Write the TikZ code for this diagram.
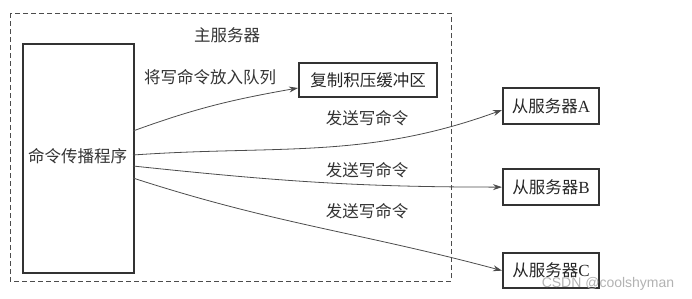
\documentclass[tikz,border=0pt]{standalone}
\usepackage{fontspec}
\setmainfont{Liberation Serif}
\newfontfamily\cjk{Noto Sans CJK SC}
\usetikzlibrary{arrows.meta}
\begin{document}
\begin{tikzpicture}[x=1pt,y=-1pt,
  box/.style={draw=black!80,line width=2.2pt,inner sep=0pt,font=\cjk\fontsize{16.5}{19}\selectfont,text=black!85},
  lbl/.style={font=\cjk\fontsize{16.5}{19}\selectfont,text=black!80,inner sep=0pt},
  conn/.style={draw=black!70,line width=0.8pt,-{Stealth[length=9pt,width=6pt]}}]
\useasboundingbox (0,0) rectangle (692,298);
\draw[black!70,line width=0.7pt,dash pattern=on 5pt off 3pt] (10,13) rectangle (451,281);
\node[lbl] (master) at (227,35) {主服务器};
\node[box,minimum width=111pt,minimum height=229pt,anchor=north west] (prop) at (22,43) {};
\node[lbl] (proptext) at (77.5,156) {命令传播程序};
\node[box,minimum width=138pt,minimum height=34pt,anchor=north west] (buf) at (298,62) {复制积压缓冲区};
\node[box,minimum width=96pt,minimum height=36pt,anchor=north west] (A) at (502,87) {从服务器{\rmfamily\fontsize{17}{19}\selectfont A}};
\node[box,minimum width=96pt,minimum height=36pt,anchor=north west] (B) at (502,168) {从服务器{\rmfamily\fontsize{17}{19}\selectfont B}};
\node[box,minimum width=96pt,minimum height=35pt,anchor=north west] (C) at (502,252) {从服务器{\rmfamily\fontsize{17}{19}\selectfont C}};
\coordinate (p1) at (133,131);
\coordinate (p2) at (133,155);
\coordinate (p3) at (133,166);
\coordinate (p4) at (133,178);
\draw[conn] (p1) to[out=20,in=190] (buf.west |- 0,88);
\draw[conn] (p2) to[out=4,in=200] (A.west |- 0,110);
\draw[conn] (p3) to[out=-6,in=180] (B.west);
\draw[conn] (p4) to[out=-18,in=165] (C.west);
\node[lbl] (l0) at (210,77) {将写命令放入队列};
\node[lbl] (l1) at (367,118) {发送写命令};
\node[lbl] (l2) at (367,170) {发送写命令};
\node[lbl] (l3) at (367,211) {发送写命令};
\node[font=\fontspec{Liberation Sans}\fontsize{14}{16}\selectfont,text=black!30,inner sep=0pt] (wm) at (608,284) {CSDN @coolshyman};
\end{tikzpicture}
\end{document}
